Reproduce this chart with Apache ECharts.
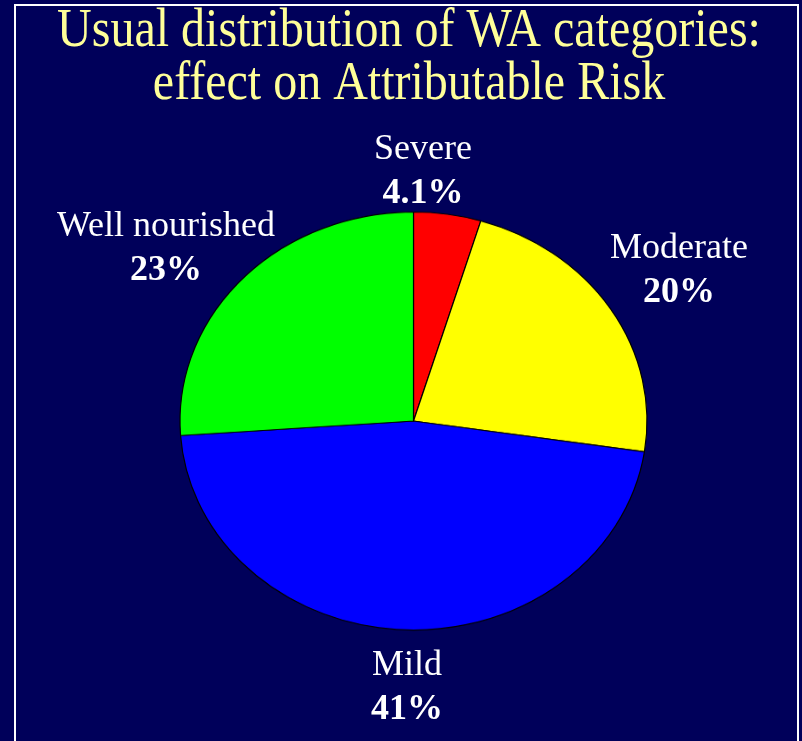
<!DOCTYPE html>
<html>
<head>
<meta charset="utf-8">
<script src="https://cdn.jsdelivr.net/npm/echarts@6/dist/echarts.min.js"></script>
<style>
  html, body { margin: 0; padding: 0; background: #00005a; width: 802px; height: 741px; overflow: hidden; }
  #pie, #overlay { position: absolute; left: 0; top: 0; width: 802px; height: 741px; }
  #pie { transform-origin: 413.5px 421px; transform: scaleY(0.895); }
</style>
</head>
<body>
<div id="pie"></div>
<div id="overlay"></div>
<script>
// ---- data ----
const categories = ['Severe', 'Moderate', 'Mild', 'Well nourished'];
const values = [4.1, 20, 41, 23];
const valueLabels = ['4.1%', '20%', '41%', '23%'];
const sliceColors = ['#ff0000', '#ffff00', '#0000ff', '#00ff00'];
const titleLines = ['Usual distribution of WA categories:', 'effect on Attributable Risk'];

// label anchor positions (layout only): [centerX, nameLineBottom]
const labelAnchors = [[423, 168], [679, 267], [407, 684], [166, 245]];

const serif = '"Liberation Serif", "Times New Roman", serif';

// ---- pie (drawn in a vertically squashed layer to get the elliptical look) ----
const pieChart = echarts.init(document.getElementById('pie'), null, { renderer: 'canvas' });
pieChart.setOption({
  backgroundColor: 'transparent',
  animation: false,
  series: [{
    type: 'pie',
    center: [413.5, 421],
    radius: 233.5,
    startAngle: 90,
    clockwise: true,
    avoidLabelOverlap: false,
    label: { show: false },
    labelLine: { show: false },
    emphasis: { disabled: true },
    itemStyle: { borderColor: '#000000', borderWidth: 1.2 },
    data: categories.map((c, i) => ({ name: c, value: values[i], itemStyle: { color: sliceColors[i] } }))
  }]
});

// ---- overlay: title, labels, frame ----
const overlay = echarts.init(document.getElementById('overlay'), null, { renderer: 'canvas' });
const graphics = [{
  type: 'rect',
  shape: { x: 15, y: 5, width: 783, height: 760 },
  style: { fill: 'none', stroke: '#ffffff', lineWidth: 2 },
  silent: true
}];
categories.forEach((c, i) => {
  const [cx, by] = labelAnchors[i];
  graphics.push({
    type: 'text', x: cx, y: by,
    style: { text: c, fill: '#ffffff', font: '36px ' + serif, textAlign: 'center', textVerticalAlign: 'bottom' },
    silent: true
  });
  graphics.push({
    type: 'text', x: cx, y: by + 44,
    style: { text: valueLabels[i], fill: '#ffffff', font: 'bold 36px ' + serif, textAlign: 'center', textVerticalAlign: 'bottom' },
    silent: true
  });
});
titleLines.forEach((t, i) => {
  graphics.push({
    type: 'text', x: 409, y: 59 + i * 53,
    scaleX: 1, scaleY: 1.15, originX: 0, originY: 0,
    style: { text: t, fill: '#ffff99', font: '48px ' + serif, textAlign: 'center', textVerticalAlign: 'bottom' },
    silent: true
  });
});
overlay.setOption({
  backgroundColor: 'transparent',
  animation: false,
  graphic: graphics
});
</script>
</body>
</html>
